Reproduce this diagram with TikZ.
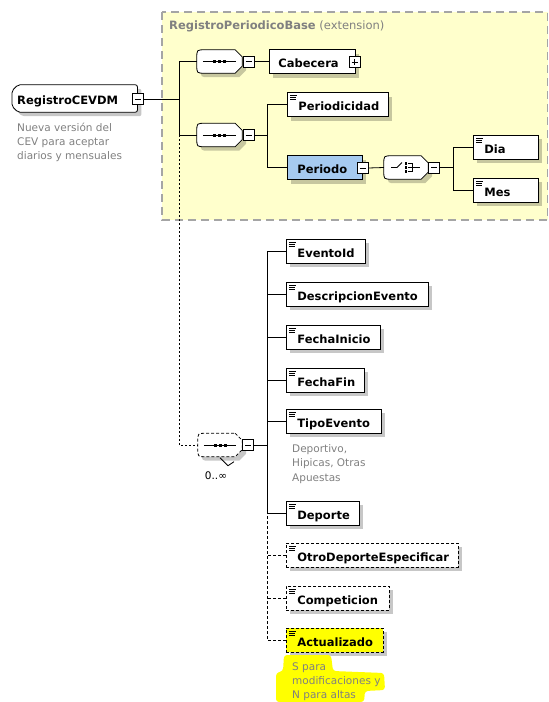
\documentclass[tikz,border=0pt]{standalone}
\usepackage{fontspec}
\setmainfont{DejaVu Sans}
\usetikzlibrary{calc}
\pgfdeclarelayer{background}
\pgfsetlayers{background,main}

\definecolor{bgyellow}{RGB}{255,255,204}
\definecolor{bordergray}{RGB}{165,165,165}
\definecolor{notegray}{RGB}{128,128,128}
\definecolor{complexblue}{RGB}{166,202,240}
\definecolor{marker}{RGB}{255,255,0}

\tikzset{
  shadowed/.style={preaction={fill=black,opacity=.22,transform canvas={xshift=4pt,yshift=-4pt}}},
  elem/.style={draw=black, fill=white, line width=.8pt, shadowed, anchor=west,
    inner sep=0pt, minimum height=24pt, text height=14pt, text depth=2pt,
    font=\fontsize{11.5}{13}\selectfont\bfseries},
  optelem/.style={elem, dash pattern=on 3pt off 2pt},
  pm/.style={draw=black, fill=white, line width=.7pt, minimum size=11pt, inner sep=0pt},
  seqnode/.style={minimum width=45pt, minimum height=23pt, inner sep=0pt},
  link/.style={line width=.8pt, draw=black},
  optlink/.style={link, dash pattern=on 3pt off 2pt},
  note/.style={anchor=north west, inner sep=0pt, align=left, text=notegray,
    font=\fontsize{10.5}{14.2}\selectfont},
}

% three-line marker of a simple-content element
\newcommand\simpleicon[1]{\draw[line width=.6pt]
  ([shift={(3,3.5)}]#1.north west) -- ++(7,0)
  ([shift={(3,5.5)}]#1.north west) -- ++(6,0)
  ([shift={(3,7.5)}]#1.north west) -- ++(6,0);}
% expand / collapse boxes
\newcommand\pmminus[1]{\draw[line width=.7pt] ([xshift=-3pt]#1.center) -- ([xshift=3pt]#1.center);}
\newcommand\pmplus[1]{\pmminus{#1}\draw[line width=.7pt] ([yshift=-3pt]#1.center) -- ([yshift=3pt]#1.center);}
% compositor outline (rounded left, chamfered right)
\newcommand\compoutline[2][]{%
  \draw[fill=white, line width=.8pt, shadowed, #1]
    ([xshift=-7pt]#2.north east) -- ([yshift=-7pt]#2.north east) --
    ([yshift=7pt]#2.south east) -- ([xshift=-7pt]#2.south east) --
    ([xshift=8pt]#2.south west) .. controls (#2.south west) .. ([yshift=8pt]#2.south west) --
    ([yshift=-8pt]#2.north west) .. controls (#2.north west) .. ([xshift=8pt]#2.north west) -- cycle;}
% sequence symbol
\newcommand\seqdots[1]{%
  \draw[line width=.8pt] ([xshift=6pt]#1.west) -- ([xshift=-6pt]#1.east);
  \foreach \q in {-5,0,5} \fill ([shift={(\q pt-1.5pt,-1.5pt)}]#1.center) rectangle ++(3pt,3pt);}
% choice symbol
\newcommand\choiceicon[1]{%
  \draw[line width=.8pt] ([xshift=-15pt]#1.center) -- ([xshift=-9pt]#1.center) -- ([shift={(-4pt,5pt)}]#1.center);
  \foreach \q in {-4,0,4} \fill ([shift={(-1.2pt,\q pt-1.2pt)}]#1.center) rectangle ++(2.4pt,2.4pt);
  \draw[line width=.8pt] ([shift={(2pt,4pt)}]#1.center) -- ([shift={(6pt,4pt)}]#1.center) --
    ([shift={(6pt,-4pt)}]#1.center) -- ([shift={(2pt,-4pt)}]#1.center);
  \draw[line width=.8pt] ([xshift=2pt]#1.center) -- ([xshift=14pt]#1.center);}

\begin{document}
\begin{tikzpicture}[x=1pt,y=-1pt]
\useasboundingbox (0,0) rectangle (549,702);

% ---- inherited base type frame ----
\begin{pgfonlayer}{background}
\draw[fill=bgyellow, draw=bordergray, line width=1.2pt, dash pattern=on 8pt off 5pt]
  (162,12) rectangle (547.5,220);
\end{pgfonlayer}
\node[anchor=west, inner sep=0pt, text=notegray, font=\fontsize{11.5}{13}\selectfont] (basetitle)
  at (169,26) {\textbf{RegistroPeriodicoBase} (extension)};

% ---- root element ----
\node[anchor=west, inner sep=0pt, minimum height=27pt, text height=14.5pt, text depth=2pt,
  font=\fontsize{11.5}{13}\selectfont\bfseries] (reg) at (12,98.5)
  {\makebox[125pt][l]{\hspace*{5pt}RegistroCEVDM}};
\begin{pgfonlayer}{background}
\draw[fill=white, line width=.8pt, shadowed, rounded corners=2pt]
  (reg.north east) -- ([xshift=6pt]reg.north west) -- ([yshift=-6pt]reg.north west) --
  ([yshift=6pt]reg.south west) -- ([xshift=6pt]reg.south west) -- (reg.south east) -- cycle;
\end{pgfonlayer}
\node[pm] (regm) at (137.5,99) {}; \pmminus{regm}
\node[note] (regnote) at (17,122.5) {Nueva versión del\\CEV para aceptar\\diarios y mensuales};

% ---- first sequence: Cabecera ----
\node[seqnode] (s1) at (219.5,61.5) {}; \compoutline{s1} \seqdots{s1}
\node[pm] (s1m) at (248.5,61.5) {}; \pmminus{s1m}
\node[elem] (cab) at (269,61.5) {\makebox[86pt][l]{\hspace*{9pt}Cabecera}};
\node[pm] (cabp) at (354.5,62) {}; \pmplus{cabp}

% ---- second sequence: Periodicidad, Periodo ----
\node[seqnode] (s2) at (219.5,135) {}; \compoutline{s2} \seqdots{s2}
\node[pm] (s2m) at (248.5,135) {}; \pmminus{s2m}
\node[elem] (perd) at (287,104.5) {\makebox[101pt][l]{\hspace*{11pt}Periodicidad}}; \simpleicon{perd}
\node[elem, fill=complexblue] (per) at (287,167.5) {\makebox[75pt][l]{\hspace*{10pt}Periodo}};
\node[pm] (perm) at (362.5,168) {}; \pmminus{perm}

% ---- choice: Dia / Mes ----
\node[seqnode, minimum width=44pt] (ch) at (406,167.5) {}; \compoutline{ch} \choiceicon{ch}
\node[pm] (chm) at (434,167.5) {}; \pmminus{chm}
\node[elem] (dia) at (473,147) {\makebox[65pt][l]{\hspace*{11pt}Dia}}; \simpleicon{dia}
\node[elem] (mes) at (473,190) {\makebox[65pt][l]{\hspace*{11pt}Mes}}; \simpleicon{mes}

% ---- repeated sequence of the extension ----
\node[seqnode, minimum width=44pt] (s3) at (220,445) {};
\compoutline[dash pattern=on 3pt off 2pt]{s3} \seqdots{s3}
\draw[line width=.8pt] ([xshift=0pt,yshift=-1pt]s3.south) -- ++(8,8) -- ++(6,-4);
\node[pm] (s3m) at (248,445) {}; \pmminus{s3m}
\node[inner sep=0pt, font=\fontsize{10.5}{12}\selectfont] (occ) at (216,476) {0..∞};

\node[elem] (ev) at (286,251) {\makebox[79pt][l]{\hspace*{11pt}EventoId}}; \simpleicon{ev}
\node[elem] (desc) at (286,294) {\makebox[142pt][l]{\hspace*{11pt}DescripcionEvento}}; \simpleicon{desc}
\node[elem] (fini) at (286,337) {\makebox[94pt][l]{\hspace*{11pt}FechaInicio}}; \simpleicon{fini}
\node[elem] (ffin) at (286,380) {\makebox[78pt][l]{\hspace*{11pt}FechaFin}}; \simpleicon{ffin}
\node[elem] (tipo) at (286,421) {\makebox[95pt][l]{\hspace*{11pt}TipoEvento}}; \simpleicon{tipo}
\node[note] (tiponote) at (292,444.5) {Deportivo,\\Hipicas, Otras\\Apuestas};
\node[elem] (dep) at (286,513) {\makebox[73pt][l]{\hspace*{11pt}Deporte}}; \simpleicon{dep}
\node[optelem] (otro) at (286,555) {\makebox[172pt][l]{\hspace*{11pt}OtroDeporteEspecificar}}; \simpleicon{otro}
\node[optelem] (comp) at (286,598) {\makebox[103pt][l]{\hspace*{11pt}Competicion}}; \simpleicon{comp}
\node[optelem, fill=marker] (act) at (286,640) {\makebox[97pt][l]{\hspace*{11pt}Actualizado}}; \simpleicon{act}

% highlighted annotation
\fill[marker, rounded corners=3pt] (284,655) -- (331,655) -- (333,671) -- (384,673) -- (385,690)
  -- (365,691) -- (364,702) -- (276,702) -- (276,673) -- (283,671) -- cycle;
\node[note] (actnote) at (292,662.5) {S para\\modificaciones y\\N para altas};

% ---- connectors ----
\coordinate (trk) at (179,99);
\draw[link] (regm.east) -- (trk);
\draw[link] (s1.west) -| (trk);
\draw[link] (s2.west) -| (trk);
\draw[link, dash pattern=on 2pt off 2pt] (s2.west -| trk) |- (s3.west);
\draw[link] (s1m.east) -- (cab.west);

\coordinate (b2) at (267,135);
\draw[link] (s2m.east) -- (b2);
\draw[link] (perd.west) -| (b2);
\draw[link] (per.west) -| (b2);
\draw[link] (perm.east) -- (ch.west);

\coordinate (b3) at (453,167.5);
\draw[link] (chm.east) -- (b3);
\draw[link] (dia.west) -| (b3);
\draw[link] (mes.west) -| (b3);

\coordinate (b4) at (267,445);
\draw[link] (s3m.east) -- (b4);
\foreach \n in {ev,desc,fini,ffin,tipo,dep} \draw[link] (\n.west) -| (b4);
\draw[optlink] (act.west) -| (b4 |- dep.west);
\draw[optlink] (otro.west) -- (otro.west -| b4);
\draw[optlink] (comp.west) -- (comp.west -| b4);
\end{tikzpicture}
\end{document}
